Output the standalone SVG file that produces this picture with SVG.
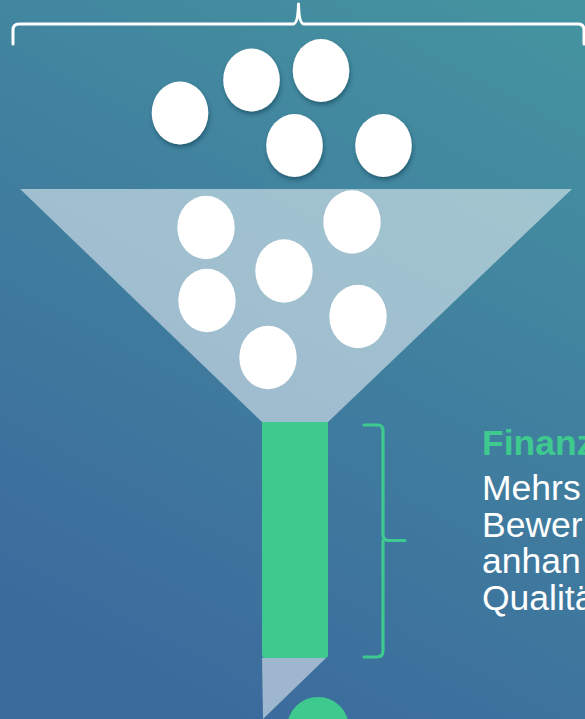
<svg xmlns="http://www.w3.org/2000/svg" width="585" height="719" viewBox="0 0 585 719">
  <defs>
    <linearGradient id="bg" x1="585" y1="0" x2="200" y2="719" gradientUnits="userSpaceOnUse">
      <stop offset="0" stop-color="#4594a0"/>
      <stop offset="1" stop-color="#3b6a9d"/>
    </linearGradient>
    <filter id="sh" x="-30%" y="-30%" width="160%" height="170%">
      <feDropShadow dx="1" dy="3" stdDeviation="2" flood-color="#0b2f40" flood-opacity="0.45"/>
    </filter>
  </defs>
  <style>
    .ball { fill: #ffffff; }
    .brace-w { fill: none; stroke: #ffffff; stroke-width: 3; stroke-linecap: round; stroke-linejoin: round; }
    .brace-g { fill: none; stroke: #3ec98f; stroke-width: 3.2; stroke-linecap: round; stroke-linejoin: round; }
    .funnel { fill: #ffffff; fill-opacity: 0.5; }
    .green { fill: #3ec98f; }
    .txt { font-family: "Liberation Sans", Arial, sans-serif; font-size: 35.5px; fill: #ffffff; }
    .head { font-weight: bold; fill: #3ec98f; }
  </style>
  <rect x="0" y="0" width="585" height="719" fill="url(#bg)"/>

  <g id="funnel">
    <polygon class="funnel" points="20,189 572,189 328,422 262,422"/>
    <polygon class="funnel" points="262,658 326,658 263,719"/>
  </g>

  <g id="tube">
    <path class="green" d="M262,422 H328 V655 Q328,658 325,658 H265 Q262,658 262,655 Z"/>
  </g>

  <g id="output-ball">
    <circle class="green" cx="318" cy="728" r="31"/>
  </g>

  <g id="balls-top" filter="url(#sh)">
    <ellipse class="ball" cx="180" cy="113" rx="28.3" ry="31.5"/>
    <ellipse class="ball" cx="251.5" cy="80" rx="28.3" ry="31.5"/>
    <ellipse class="ball" cx="321" cy="70.5" rx="28.3" ry="31.5"/>
    <ellipse class="ball" cx="294.5" cy="145.5" rx="28.3" ry="31.5"/>
    <ellipse class="ball" cx="383.5" cy="145.5" rx="28.3" ry="31.5"/>
  </g>

  <g id="balls-funnel">
    <ellipse class="ball" cx="206" cy="227.5" rx="28.7" ry="31.7"/>
    <ellipse class="ball" cx="352" cy="222" rx="28.7" ry="31.7"/>
    <ellipse class="ball" cx="284" cy="271" rx="28.7" ry="31.7"/>
    <ellipse class="ball" cx="207" cy="300.5" rx="28.7" ry="31.7"/>
    <ellipse class="ball" cx="358" cy="316.5" rx="28.7" ry="31.7"/>
    <ellipse class="ball" cx="268" cy="357.5" rx="28.7" ry="31.7"/>
  </g>

  <g id="connectors">
    <path class="brace-w" d="M13,44 V30 Q13,24 19,24 H293 Q298,24 298.5,4 Q299,24 304,24 H578 Q584,24 584,30 V44"/>
    <path class="brace-g" d="M364,425 H378 Q383,425 383,431 V535 Q383,540.5 389,540.5 H405 M383,540.5 Q383,546 383,546 V651 Q383,657 377,657 H364"/>
  </g>

  <g id="label">
    <text class="txt head" x="482" y="455">Finanz</text>
    <text class="txt" x="482" y="500">Mehrs</text>
    <text class="txt" x="482" y="537">Bewer</text>
    <text class="txt" x="482" y="573">anhan</text>
    <text class="txt" x="482" y="610">Qualitä</text>
  </g>
</svg>
